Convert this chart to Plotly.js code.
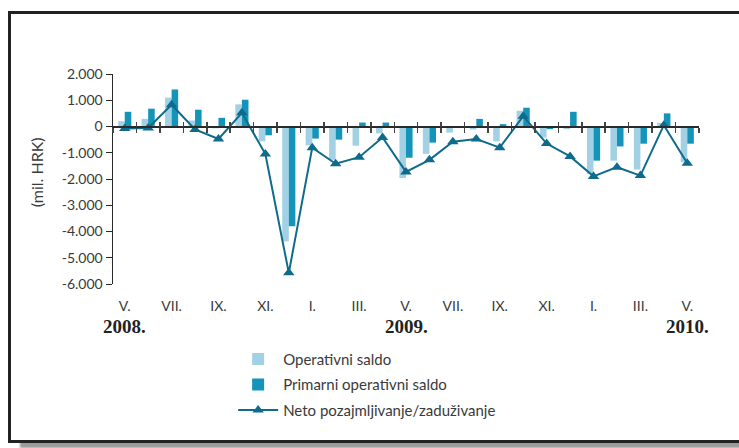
<!DOCTYPE html>
<html>
<head>
<meta charset="utf-8">
<script src="https://cdn.plot.ly/plotly-3.0.1.min.js"></script>
<style>
  html, body { margin: 0; padding: 0; background: #ffffff; overflow: hidden; }
  #frame {
    position: absolute; left: 8px; top: 11px; width: 740px; height: 426px;
    border: 3px solid #222; background: #fff;
    box-shadow: 12px 5px 2px #9a9a9a;
  }
  #chart { position: absolute; left: 0; top: 0; width: 739px; height: 448px; }
</style>
</head>
<body>
<div id="frame"></div>
<div id="chart"></div>
<script>
// Months May 2008 – May 2010
const months = ['V.2008','VI.2008','VII.2008','VIII.2008','IX.2008','X.2008','XI.2008','XII.2008',
  'I.2009','II.2009','III.2009','IV.2009','V.2009','VI.2009','VII.2009','VIII.2009','IX.2009','X.2009','XI.2009','XII.2009',
  'I.2010','II.2010','III.2010','IV.2010','V.2010'];

// mil. HRK
const operativniSaldo = [200, 290, 1100, 230, -70, 845, -565, -4375, -720, -1270, -730, -260,
  -1960, -1040, -230, -115, -565, 600, -420, -100, -1810, -1300, -1640, 140, -1360];
const primarniSaldo = [560, 680, 1410, 640, 330, 1020, -335, -3800, -460, -500, 150, 150,
  -1190, -615, -20, 290, 90, 715, -100, 560, -1300, -760, -655, 500, -655];
const netoPozajmljivanje = [-80, -60, 830, -115, -475, 520, -1050, -5575, -805, -1420, -1170, -420,
  -1730, -1270, -580, -475, -805, 395, -650, -1140, -1900, -1550, -1870, 50, -1400];

const tickLabels = ['V.','VII.','IX.','XI.','I.','III.','V.','VII.','IX.','XI.','I.','III.','V.'];
const tickMonths = ['V.2008','VII.2008','IX.2008','XI.2008','I.2009','III.2009','V.2009','VII.2009','IX.2009','XI.2009','I.2010','III.2010','V.2010'];
const yearLabels = ['2008.','2009.','2010.'];
const yearMonths = ['V.2008','V.2009','V.2010'];
const yTicks = [2000, 1000, 0, -1000, -2000, -3000, -4000, -5000, -6000];
const yTickText = ['2.000','1.000','0','-1.000','-2.000','-3.000','-4.000','-5.000','-6.000'];

const idx = months.map((m, i) => i);
const boundaries = months.map((m, i) => i - 0.5).concat([months.length - 0.5]);
const xRange = [-0.5, months.length - 0.5];
const yRange = [-6000, 2000];
const zeroPos = (0 - yRange[0]) / (yRange[1] - yRange[0]);

const textColor = '#3a3a3a';
const baseFont = { family: 'Lato, "Open Sans", sans-serif', size: 13, color: textColor };

const traces = [
  { type: 'bar', name: 'Operativni saldo', x: idx, y: operativniSaldo,
    marker: { color: '#a2d0e5' }, legendgroup: 'a' },
  { type: 'bar', name: 'Primarni operativni saldo', x: idx, y: primarniSaldo,
    marker: { color: '#1594ba' }, legendgroup: 'b' },
  { type: 'scatter', mode: 'lines+markers', name: 'Neto pozajmljivanje/zaduživanje', x: idx, y: netoPozajmljivanje,
    line: { color: '#0f6b8b', width: 2 },
    marker: { symbol: 'triangle-up', size: 10, color: '#0f6b8b' }, legendgroup: 'c' },
  // helper traces so the overlay axes (zero-line ticks) are drawn
  { type: 'scatter', mode: 'none', x: idx, y: idx.map(() => null), xaxis: 'x2', showlegend: false, hoverinfo: 'skip' },
  { type: 'scatter', mode: 'none', x: idx, y: idx.map(() => null), xaxis: 'x3', showlegend: false, hoverinfo: 'skip' }
];

const annotations = yearLabels.map((t, i) => ({
  text: '<b>' + t + '</b>', x: months.indexOf(yearMonths[i]), xref: 'x', y: -0.2, yref: 'paper',
  showarrow: false, xanchor: 'center', yanchor: 'middle',
  font: { family: '"Liberation Serif", serif', size: 19, color: '#222' }
}));
annotations.push({
  text: '(mil. HRK)', textangle: -90, x: -0.131, xref: 'paper', y: 0.533, yref: 'paper',
  showarrow: false, xanchor: 'center', yanchor: 'middle',
  font: { family: 'Lato, sans-serif', size: 16, color: textColor }
});

const layout = {
  width: 739, height: 448,
  margin: { l: 113, r: 40, t: 74, b: 164 },
  paper_bgcolor: 'rgba(0,0,0,0)', plot_bgcolor: 'rgba(0,0,0,0)',
  font: baseFont,
  barmode: 'group', bargap: 0.44, bargroupgap: 0,
  showlegend: true,
  legend: { x: 0.205, xanchor: 'left', y: -0.28, yanchor: 'top', orientation: 'v',
    traceorder: 'grouped', tracegroupgap: 3, itemwidth: 40,
    font: { family: 'Lato, sans-serif', size: 15, color: textColor }, bgcolor: 'rgba(0,0,0,0)' },
  xaxis: { range: xRange, anchor: 'y', side: 'bottom', showline: false,
    tickmode: 'array', tickvals: tickMonths.map(m => months.indexOf(m)), ticktext: tickLabels,
    ticks: '', ticklabelstandoff: 12, showgrid: false, zeroline: false,
    tickfont: { family: 'Lato, sans-serif', size: 14, color: textColor } },
  xaxis2: { overlaying: 'x', range: xRange, anchor: 'free', position: zeroPos, showline: true, linecolor: '#2a2a2a', linewidth: 2,
    tickmode: 'array', tickvals: boundaries, ticks: 'outside', ticklen: 5, tickcolor: '#444', tickwidth: 1.5,
    showticklabels: false, showgrid: false, zeroline: false },
  xaxis3: { overlaying: 'x', range: xRange, anchor: 'free', position: zeroPos, showline: false,
    tickmode: 'array', tickvals: boundaries, ticks: 'inside', ticklen: 5, tickcolor: '#444', tickwidth: 1.5,
    showticklabels: false, showgrid: false, zeroline: false },
  yaxis: { range: yRange, showline: true, linecolor: '#2a2a2a', linewidth: 1.5,
    tickmode: 'array', tickvals: yTicks, ticktext: yTickText, ticks: 'outside', ticklen: 6, tickcolor: '#2a2a2a',
    showgrid: false, zeroline: false,
    tickfont: { family: 'Lato, sans-serif', size: 14, color: textColor } },
  annotations: annotations
};

Plotly.newPlot('chart', traces, layout, { staticPlot: true, displayModeBar: false });
</script>
</body>
</html>
